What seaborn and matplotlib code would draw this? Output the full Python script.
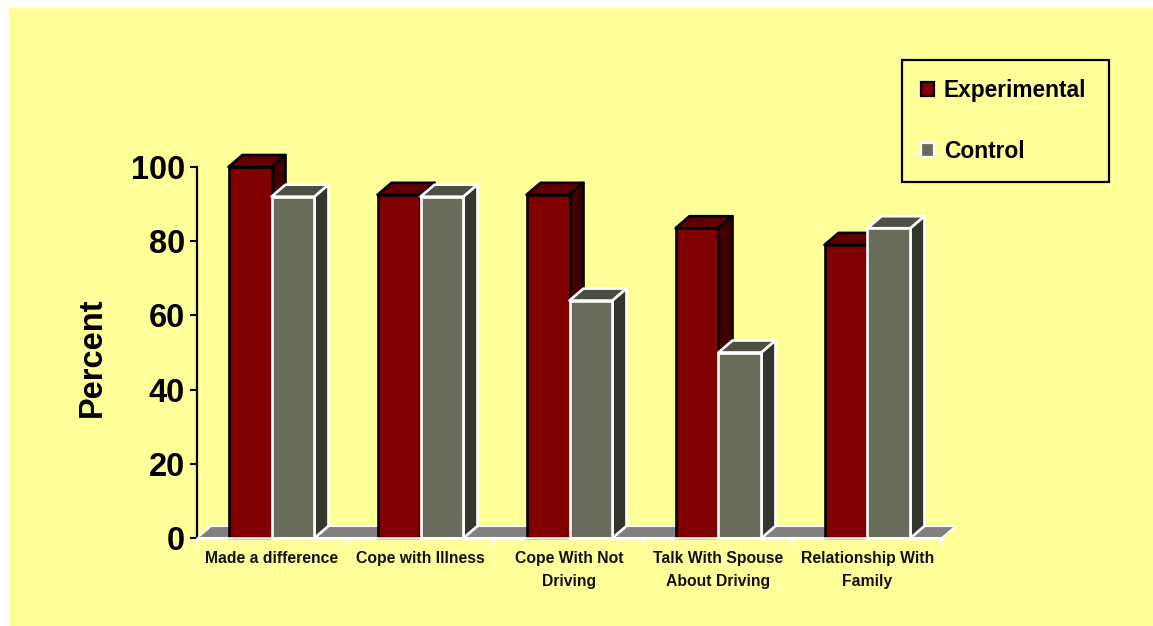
import matplotlib
matplotlib.use("Agg")
import matplotlib.pyplot as plt
from matplotlib.patches import Rectangle
import pandas as pd
import seaborn as sns

categories = ["Made a difference", "Cope with Illness", "Cope With Not\nDriving",
              "Talk With Spouse\nAbout Driving", "Relationship With\nFamily"]
experimental = [100, 92.5, 92.5, 83.5, 79]
control = [92, 92, 64, 50, 83.5]
series_names = ["Experimental", "Control"]
y_ticks = [0, 20, 40, 60, 80, 100]

W, H = 1153, 626
YELLOW = "#FFFF99"
FRONT = ["#800000", "#696C5A"]
TOP = ["#600000", "#4D4F42"]
SIDE = ["#400000", "#34362D"]
EDGE = ["black", "white"]

sns.set_style("white")
plt.rcParams["font.family"] = ["Liberation Sans", "DejaVu Sans"]
plt.rcParams["font.weight"] = "bold"
plt.rcParams["text.color"] = "black"
plt.rcParams["axes.labelcolor"] = "black"
plt.rcParams["ytick.color"] = "black"
plt.rcParams["xtick.color"] = "black"

df = pd.DataFrame({
    "category": categories * 2,
    "group": [series_names[0]] * 5 + [series_names[1]] * 5,
    "value": experimental + control,
})

fig = plt.figure(figsize=(W / 100, H / 100), dpi=100, facecolor="white")
fig.add_artist(Rectangle((9 / W, 0), 1 - 9 / W, 1 - 8 / H, transform=fig.transFigure,
                         facecolor=YELLOW, edgecolor="none", zorder=-1))
ax = fig.add_axes([197 / W, (H - 538) / H, 745 / W, 371 / H])
ax.set_facecolor("none")

sns.barplot(data=df, x="category", y="value", hue="group", palette=FRONT,
            saturation=1, width=0.577, gap=0, ax=ax, legend=False)
ax.set_xlim(-0.5, 4.5)
ax.set_ylim(0, 100)

# depth of the 3-D look, 14 px right and 12 px up, expressed in data units
dx = 14 / (745 / 5)
dy = 12 / (371 / 100)

# floor
ax.fill([-0.5, 4.5, 4.5 + dx, -0.5 + dx], [0, 0, dy, dy], facecolor="#808080",
        edgecolor="white", lw=1.5, zorder=1, clip_on=False)

LW = 1.9
for s, cont in enumerate(ax.containers):
    for patch in cont:
        z = 3 + s
        x0, x1 = patch.get_x(), patch.get_x() + patch.get_width()
        h = patch.get_height()
        patch.set(edgecolor=EDGE[s], linewidth=LW, zorder=z + 0.2, clip_on=False)
        ax.fill([x0, x1, x1 + dx, x0 + dx], [h, h, h + dy, h + dy], facecolor=TOP[s],
                edgecolor=EDGE[s], lw=LW, zorder=z, clip_on=False, joinstyle="round")
        ax.fill([x1, x1 + dx, x1 + dx, x1], [0, dy, h + dy, h], facecolor=SIDE[s],
                edgecolor=EDGE[s], lw=LW, zorder=z + 0.1, clip_on=False, joinstyle="round")

# axes
sns.despine(ax=ax, top=True, right=True)
ax.spines["left"].set(color="black", linewidth=1.6, zorder=6)
ax.spines["bottom"].set(color="white", linewidth=1.8, zorder=6)
ax.set_yticks(y_ticks)
ax.tick_params(axis="y", left=True, length=5, width=1.5, color="black", pad=3.5,
               labelsize=23.5, labelcolor="black")
ax.set_xticks(range(5))
ax.set_xticklabels(categories, fontsize=11.3, fontweight="bold", linespacing=1.62)
ax.tick_params(axis="x", which="major", bottom=False, pad=6, labelcolor="#111111")
ax.set_xticks([i - 0.5 for i in range(6)], minor=True)
ax.tick_params(axis="x", which="minor", bottom=True, length=5, width=1.5, color="white")
for t in ax.get_yticklabels():
    t.set_fontweight("bold")
ax.set_xlabel("")
ax.set_ylabel("Percent", fontsize=23.5, fontweight="bold", labelpad=0, color="black")
ax.yaxis.set_label_coords((108 - 197) / 745, (538 - 357) / 371)

handles = list(ax.containers)
leg = ax.legend(handles, series_names, loc="upper left",
                bbox_to_anchor=(902 / W, 1 - 182 / H, 207 / W, 122 / H),
                bbox_transform=fig.transFigure, mode="expand", borderaxespad=0,
                fontsize=16.4, frameon=True, fancybox=False, framealpha=1,
                facecolor=YELLOW, edgecolor="black", borderpad=0.84,
                handlelength=0.58, handleheight=0.58, handletextpad=0.41,
                labelspacing=1.66, alignment="left")
leg.get_frame().set_linewidth(1.6)
leg.set_zorder(10)
for t in leg.get_texts():
    t.set_fontweight("bold")
for h in leg.legend_handles:
    h.set_linewidth(1.6)

fig.savefig("out.png", dpi=100, facecolor=fig.get_facecolor())
